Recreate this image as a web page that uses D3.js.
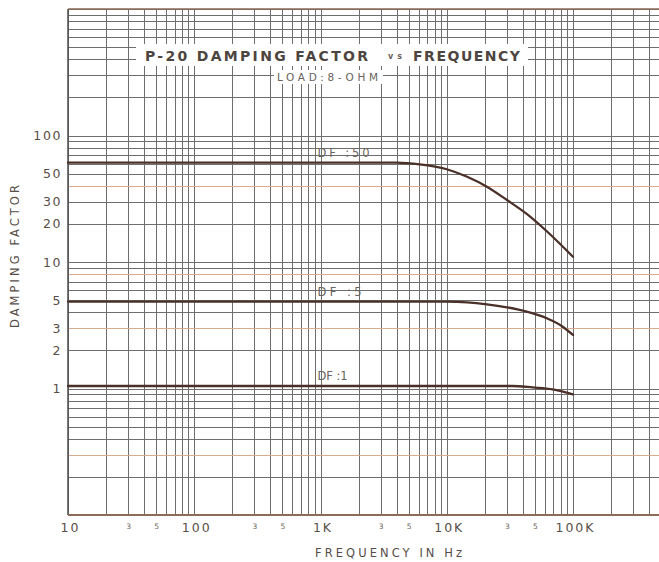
<!DOCTYPE html>
<html>
<head>
<meta charset="utf-8">
<script src="https://cdn.jsdelivr.net/npm/d3@7/dist/d3.min.js"></script>
<style>
  html, body { margin: 0; padding: 0; background: #fff; }
  svg { display: block; }
  text { font-family: "DejaVu Sans", sans-serif; fill: #574e48; }
</style>
</head>
<body>
<svg id="chart" width="659" height="562"></svg>
<script>
// ---- data ----
const freqMajorTicks = [10, 100, 1000, 10000, 100000];
const freqMajorLabels = ["10", "100", "1K", "10K", "100K"];
const freqMinorTicks = [30, 50, 300, 500, 3000, 5000, 30000, 50000];
const freqMinorLabels = ["3", "5", "3", "5", "3", "5", "3", "5"];
const dfTicks = [1, 2, 3, 5, 10, 20, 30, 50, 100];
const dfTickLabels = ["1", "2", "3", "5", "10", "20", "30", "50", "100"];

const df50Freq   = [10, 100, 1000, 4000, 6100, 10000, 14500, 20800, 30000, 43000, 62000, 100000];
const df50Values = [61, 61, 61, 61, 59.2, 54.1, 47.2, 39.4, 30.9, 24.0, 17.5, 11.0];

const df5Freq   = [10, 100, 1000, 10000, 14500, 20800, 30000, 43000, 62000, 83000, 100000];
const df5Values = [4.86, 4.86, 4.86, 4.86, 4.80, 4.63, 4.38, 4.05, 3.59, 3.08, 2.65];

const df1Freq   = [10, 100, 1000, 10000, 33000, 48000, 69000, 100000];
const df1Values = [1.047, 1.047, 1.047, 1.047, 1.047, 1.02, 0.985, 0.90];

const seriesNames = ["DF :50", "DF :5", "DF :1"];
const titleMain = "P-20 DAMPING FACTOR";
const titleVs = "vs";
const titleEnd = "FREQUENCY";
const subTitle = "LOAD:8-OHM";
const xTitle = "FREQUENCY  IN Hz";
const yTitle = "DAMPING FACTOR";

// ---- scales ----
const svg = d3.select("#chart");
const x = d3.scaleLog().domain([10, 1e6]).range([68, 699.25]);
const y = d3.scaleLog().domain([0.1, 1000]).range([515, 9]);
const pLeft = x(10), pRight = 659, pTop = y(1000), pBottom = y(0.1);

const gridColor = "#6e6e6e";
const tanColor = "#d8ab90";

// grid values (log grid 1..9 per decade)
const vGrid = [];
for (let d = 1; d <= 5; d++) for (let m = 1; m <= 9; m++) vGrid.push(m * Math.pow(10, d));
vGrid.push(1e6);
const hGrid = [];
for (let d = -1; d <= 2; d++) for (let m = 1; m <= 9; m++) hGrid.push(+(m * Math.pow(10, d)).toPrecision(3));
hGrid.push(1000);
const tanLines = [0.3, 3, 8, 40];

const g = svg.append("g");

g.selectAll("line.v").data(vGrid).join("line")
  .attr("x1", d => Math.round(x(d)) + 0.5).attr("x2", d => Math.round(x(d)) + 0.5)
  .attr("y1", pTop).attr("y2", pBottom)
  .attr("stroke", gridColor).attr("stroke-width", 1);

g.selectAll("line.h").data(hGrid).join("line")
  .attr("x1", pLeft).attr("x2", pRight)
  .attr("y1", d => Math.round(y(d)) + 0.5).attr("y2", d => Math.round(y(d)) + 0.5)
  .attr("stroke", d => tanLines.includes(d) ? tanColor : gridColor)
  .attr("stroke-width", 1);

// frame
g.append("line").attr("x1", pLeft).attr("x2", pLeft).attr("y1", pTop).attr("y2", pBottom)
  .attr("stroke", "#555").attr("stroke-width", 1.6);
g.append("line").attr("x1", pLeft).attr("x2", pRight).attr("y1", pBottom).attr("y2", pBottom)
  .attr("stroke", "#8a6a58").attr("stroke-width", 1.8);
g.append("line").attr("x1", pLeft).attr("x2", pRight).attr("y1", pTop).attr("y2", pTop)
  .attr("stroke", "#8a6a58").attr("stroke-width", 1.4);

// title backgrounds
g.append("rect").attr("x", 136).attr("y", 44).attr("width", 392).attr("height", 22).attr("fill", "#fff");
g.append("rect").attr("x", 274).attr("y", 70).attr("width", 109).attr("height", 14).attr("fill", "#fff");

// titles
svg.append("text").attr("x", 145).attr("y", 60.5).attr("font-size", 14).attr("font-weight", "bold")
  .attr("textLength", 223).attr("lengthAdjust", "spacing").style("fill", "#4d4540").text(titleMain);
svg.append("text").attr("x", 388).attr("y", 59).attr("font-size", 8).attr("font-weight", "bold")
  .attr("textLength", 14).attr("lengthAdjust", "spacing").style("fill", "#6a625c").text(titleVs);
svg.append("text").attr("x", 413).attr("y", 60.5).attr("font-size", 14).attr("font-weight", "bold")
  .attr("textLength", 107).attr("lengthAdjust", "spacing").style("fill", "#4d4540").text(titleEnd);
svg.append("text").attr("x", 277).attr("y", 81).attr("font-size", 10.5)
  .attr("textLength", 101).attr("lengthAdjust", "spacing").style("fill", "#6a625c").text(subTitle);

// curves
const line = d3.line().x(d => x(d[0])).y(d => y(d[1])).curve(d3.curveMonotoneX);
const series = [
  [df50Freq, df50Values],
  [df5Freq, df5Values],
  [df1Freq, df1Values]
];
series.forEach(([f, v], i) => {
  const pts = f.map((ff, j) => [ff, v[j]]);
  svg.append("path").datum(pts).attr("d", line)
    .attr("fill", "none").attr("stroke", "#4a3029").attr("stroke-width", 2.3)
    .attr("stroke-linecap", "round");
  svg.append("text")
    .attr("x", x(1000) - 3).attr("y", y(v[2]) - 6)
    .attr("font-size", 11.5).style("fill", "#6a6460")
    .attr("textLength", i === 0 ? 52 : (i === 1 ? 44 : 30)).attr("lengthAdjust", "spacing")
    .text(seriesNames[i]);
});

// y axis labels
const yAxis = d3.axisLeft(y).tickValues(dfTicks)
  .tickFormat((d, i) => dfTickLabels[i]).tickSize(0).tickPadding(6);
const ya = svg.append("g").attr("transform", `translate(${pLeft},0)`).call(yAxis);
ya.select(".domain").remove();
ya.selectAll("text").attr("font-size", 12.5).attr("letter-spacing", 1.6)
  .style("font-family", "DejaVu Sans, sans-serif").style("fill", "#574e48").attr("dy", "0.32em");

// x axis labels
const xAxis = d3.axisBottom(x).tickValues(freqMajorTicks)
  .tickFormat((d, i) => freqMajorLabels[i]).tickSize(0).tickPadding(8);
const xa = svg.append("g").attr("transform", `translate(0,${pBottom})`).call(xAxis);
xa.select(".domain").remove();
xa.selectAll("text").attr("font-size", 12.5).attr("letter-spacing", 2).attr("dx", 2)
  .style("font-family", "DejaVu Sans, sans-serif").style("fill", "#574e48");

const xMinor = d3.axisBottom(x).tickValues(freqMinorTicks)
  .tickFormat((d, i) => freqMinorLabels[i]).tickSize(0).tickPadding(9);
const xm = svg.append("g").attr("transform", `translate(0,${pBottom})`).call(xMinor);
xm.select(".domain").remove();
xm.selectAll("text").attr("font-size", 7.5)
  .style("font-family", "DejaVu Sans, sans-serif").style("fill", "#6a625c");

// axis titles
svg.append("text").attr("x", 315).attr("y", 557).attr("font-size", 11.5)
  .attr("textLength", 147).attr("lengthAdjust", "spacing").text(xTitle);
svg.append("text").attr("transform", "translate(19,328) rotate(-90)")
  .attr("font-size", 11.5).attr("textLength", 143).attr("lengthAdjust", "spacing").text(yTitle);
</script>
</body>
</html>
